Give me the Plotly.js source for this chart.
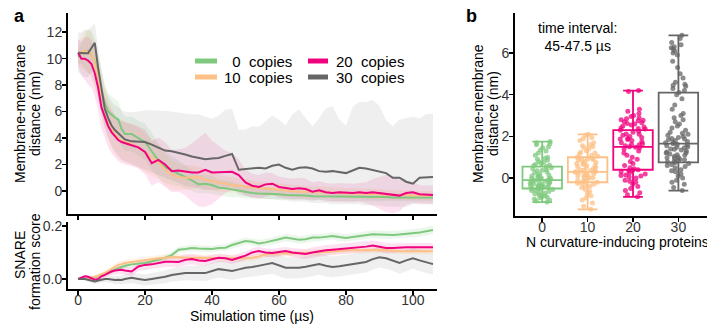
<!DOCTYPE html>
<html>
<head>
<meta charset="utf-8">
<script src="https://cdn.plot.ly/plotly-3.0.1.min.js"></script>
<style>html,body{margin:0;padding:0;background:#fff;}#chart{width:707px;height:327px;}</style>
</head>
<body>
<div id="chart"></div>
<script>
// ---------- DATA ----------
const seriesNames = ["\u00a0\u00a00\u00a0 copies", "10\u00a0 copies", "20\u00a0 copies", "30\u00a0 copies"];
const seriesColors = ["#7fc97f", "#fdc086", "#f0027f", "#666666"];
const ribbonColors = ["rgba(127,201,127,0.15)", "rgba(253,192,134,0.18)", "rgba(240,2,127,0.11)", "rgba(102,102,102,0.10)"];

const time = [0,1,2,3,4,5,6,7,8,9,10,11,12,13,14,16,18,20,22,24,26,28,30,32,34,36,38,40,42,44,46,48,50,52,54,56,58,60,62,64,66,68,70,72,74,76,78,80,82,84,86,88,90,92,94,96,98,100,102,104,106];

// membrane-membrane distance (nm), mean
const dist0 = [10.15,10.4,10.5,10.6,10.3,9.7,8.6,7.5,6.6,6.0,5.75,5.55,5.4,4.7,4.3,
  4.3,4.0,3.7,3.0,2.3,1.8,1.55,1.35,
  1.1,0.8,0.5,0.55,0.45,0.25,0.2,0.1,
  0.0,-0.05,-0.15,-0.2,-0.2,-0.25,-0.25,-0.3,-0.3,-0.35,-0.35,-0.4,-0.4,-0.4,-0.45,-0.45,-0.45,-0.45,-0.45,-0.45,-0.45,-0.45,-0.45,-0.5,-0.5,-0.5,-0.5,-0.5,-0.5,-0.5];
const dist10 = [10.4,10.5,10.6,10.5,10.4,9.6,8.6,7.2,6.2,5.4,4.8,4.25,4.0,3.8,3.7,
  3.55,3.3,2.9,2.55,2.2,1.6,1.2,1.05,
  1.0,1.05,1.05,0.85,0.75,0.6,0.5,0.45,
  0.4,0.35,0.3,0.2,0.15,0.1,0.1,0.05,0.0,-0.05,-0.05,-0.1,-0.1,-0.1,-0.15,-0.15,-0.2,-0.2,-0.2,-0.25,-0.25,-0.25,-0.3,-0.3,-0.3,-0.3,-0.35,-0.35,-0.35,-0.35];
const dist20 = [10.45,10.0,10.0,9.85,9.6,8.9,7.8,6.3,5.6,4.9,4.45,4.15,3.85,3.7,3.6,
  3.45,3.3,2.95,2.1,2.35,2.0,1.5,1.55,
  1.45,1.4,1.4,1.6,1.4,1.4,1.45,1.45,
  1.2,0.65,0.4,0.3,0.5,0.55,0.3,0.2,0.15,0.2,0.15,-0.05,0.05,-0.1,-0.15,-0.1,-0.15,-0.15,-0.1,-0.15,-0.1,-0.15,-0.2,-0.3,-0.35,-0.15,-0.1,-0.25,-0.3,-0.3];
const dist30 = [10.45,10.4,10.4,10.4,10.8,11.2,9.3,7.6,6.2,5.5,4.95,4.6,4.35,4.1,3.9,
  3.75,3.7,3.7,3.5,3.3,3.05,3.0,2.9,
  2.75,2.6,2.5,2.4,2.45,2.5,2.65,2.8,
  1.6,1.65,1.7,1.75,1.7,1.9,2.0,1.75,1.6,1.75,1.8,1.7,1.5,1.45,1.5,1.4,1.35,1.55,1.75,1.7,1.6,1.45,1.35,1.0,1.0,0.7,0.55,1.0,1.0,1.05];

// distance spread (sd) for 0/10/20 copies, explicit band for 30 copies
const distSd0 = [0.5,0.8,1.2,1.6,1.8,1.8,1.7,1.6,1.5,1.4,1.4,1.4,1.4,1.3,1.3,
  1.3,1.3,1.4,1.4,1.3,1.2,1.1,1.0,
  0.9,0.8,0.7,0.7,0.7,0.6,0.6,0.6,
  0.5,0.5,0.45,0.4,0.4,0.4,0.35,0.35,0.35,0.3,0.3,0.3,0.3,0.3,0.3,0.3,0.3,0.3,0.3,0.3,0.3,0.3,0.3,0.3,0.3,0.3,0.3,0.3,0.3,0.3];
const distSd10 = [0.8,1.2,1.5,1.6,1.6,1.6,1.6,1.5,1.5,1.5,1.5,1.5,1.5,1.5,1.5,
  1.5,1.5,1.5,1.4,1.3,1.2,1.1,1.0,
  0.9,0.9,0.8,0.8,0.7,0.7,0.6,0.6,
  0.55,0.55,0.5,0.5,0.5,0.5,0.5,0.45,0.45,0.45,0.45,0.45,0.45,0.4,0.4,0.4,0.4,0.4,0.4,0.4,0.4,0.4,0.4,0.35,0.35,0.35,0.35,0.35,0.35,0.35];
const distSd20 = [1.0,1.3,1.6,1.8,1.8,1.8,1.7,1.6,1.6,1.6,1.6,1.6,1.6,1.6,1.6,
  1.6,1.6,1.7,1.7,1.7,1.7,1.6,1.6,
  1.8,2.2,2.6,2.8,2.4,2.0,1.6,1.4,
  1.2,1.0,0.9,0.9,0.9,0.8,0.8,0.8,0.8,0.8,0.8,0.7,0.7,0.7,0.7,0.7,0.7,0.7,0.7,0.8,1.0,1.2,1.4,1.4,1.2,0.9,0.8,0.7,0.7,0.7];
const distHi30 = [11.95,12.0,12.2,12.2,12.4,12.7,10.8,9.1,7.8,7.2,6.75,6.5,6.35,6.1,6.0,
  5.95,6.0,6.1,6.1,6.1,6.05,6.0,5.9,
  5.85,5.8,5.8,5.6,5.45,5.7,6.15,6.2,
  4.6,4.65,4.9,4.85,5.3,5.7,5.4,4.95,5.8,6.15,5.5,4.9,5.5,6.25,6.4,5.4,4.95,6.35,6.75,6.7,6.9,6.45,5.35,4.9,5.4,5.5,5.6,5.5,5.8,5.85];
const distLo30 = [9.0,8.8,8.6,8.6,9.0,9.6,7.8,6.0,4.8,4.0,3.4,3.0,2.7,2.4,2.2,
  2.0,1.8,1.6,1.4,1.2,1.0,0.8,0.6,
  0.4,0.3,0.2,0.1,0.1,0.1,0.2,0.3,
  -0.3,-0.4,-0.5,-0.5,-0.6,-0.6,-0.7,-0.7,-0.8,-0.8,-0.8,-0.9,-0.9,-0.9,-1.0,-1.0,-1.0,-1.0,-1.0,-1.1,-1.1,-1.1,-1.2,-1.2,-1.2,-1.2,-1.0,-1.0,-1.0,-1.0];

// SNARE formation score, mean
const snare0 = [0,0,0,0.002,0.004,0.006,0.01,0.015,0.02,0.025,0.03,0.033,0.038,0.045,0.05,
  0.055,0.058,0.06,0.066,0.072,0.08,0.09,0.11,
  0.113,0.117,0.115,0.113,0.113,0.117,0.118,0.128,
  0.135,0.143,0.14,0.134,0.138,0.143,0.15,0.156,0.152,0.148,0.15,0.156,0.156,0.16,0.162,0.158,0.155,0.158,0.162,0.165,0.169,0.168,0.166,0.166,0.168,0.17,0.172,0.175,0.18,0.185];
const snare10 = [0,0,0,0.002,0.005,0.008,0.012,0.018,0.022,0.03,0.037,0.045,0.053,0.056,0.06,
  0.064,0.068,0.072,0.074,0.078,0.08,0.083,0.082,
  0.08,0.079,0.08,0.08,0.08,0.08,0.079,0.078,
  0.077,0.078,0.08,0.085,0.093,0.095,0.097,0.097,0.096,0.097,0.097,0.098,0.1,0.102,0.104,0.106,0.109,0.109,0.108,0.109,0.11,0.109,0.108,0.106,0.105,0.105,0.105,0.105,0.105,0.105];
const snare20 = [0,0.004,0.01,0.008,0.002,-0.003,0.0,0.01,0.015,0.022,0.028,0.032,0.034,0.035,0.032,
  0.028,0.047,0.053,0.055,0.06,0.065,0.065,0.064,
  0.072,0.075,0.07,0.068,0.074,0.08,0.078,0.072,
  0.08,0.088,0.1,0.105,0.1,0.098,0.102,0.105,0.1,0.096,0.094,0.1,0.105,0.108,0.11,0.112,0.115,0.117,0.118,0.122,0.126,0.122,0.117,0.117,0.119,0.12,0.12,0.12,0.12,0.12];
const snare30 = [0,0,0,-0.003,-0.006,-0.01,-0.006,-0.002,0,0,-0.002,-0.004,-0.003,-0.004,0.0,
  0.004,0.0,-0.004,0.0,0.004,0.008,0.015,0.018,
  0.022,0.022,0.022,0.022,0.03,0.037,0.034,0.03,
  0.036,0.042,0.045,0.049,0.055,0.06,0.05,0.042,0.042,0.042,0.046,0.05,0.056,0.05,0.045,0.048,0.052,0.056,0.06,0.064,0.075,0.082,0.078,0.07,0.06,0.07,0.078,0.07,0.062,0.056];

const snareSd0 = [0,0.002,0.003,0.004,0.005,0.006,0.007,0.008,0.009,0.01,0.01,0.01,0.01,0.01,0.01,
  0.01,0.01,0.01,0.011,0.011,0.011,0.012,0.012,
  0.012,0.012,0.012,0.012,0.012,0.012,0.013,0.013,
  0.013,0.013,0.013,0.013,0.013,0.014,0.014,0.014,0.014,0.014,0.014,0.014,0.014,0.014,0.014,0.014,0.014,0.014,0.014,0.014,0.015,0.015,0.015,0.015,0.015,0.015,0.015,0.016,0.016,0.016];
const snareSd10 = [0,0.002,0.003,0.004,0.006,0.007,0.008,0.009,0.01,0.011,0.012,0.012,0.012,0.012,0.012,
  0.012,0.012,0.012,0.012,0.012,0.012,0.012,0.012,
  0.012,0.012,0.012,0.012,0.012,0.012,0.012,0.012,
  0.012,0.012,0.012,0.012,0.012,0.012,0.012,0.012,0.012,0.012,0.012,0.012,0.012,0.012,0.012,0.012,0.012,0.012,0.012,0.012,0.012,0.012,0.012,0.012,0.012,0.012,0.012,0.012,0.012,0.012];
const snareSd20 = [0,0.003,0.005,0.006,0.007,0.008,0.009,0.01,0.011,0.012,0.013,0.014,0.015,0.015,0.015,
  0.016,0.017,0.018,0.018,0.019,0.02,0.02,0.02,
  0.02,0.02,0.019,0.018,0.017,0.016,0.016,0.016,
  0.016,0.016,0.016,0.016,0.016,0.016,0.016,0.016,0.017,0.018,0.019,0.02,0.02,0.02,0.02,0.02,0.02,0.02,0.02,0.02,0.02,0.02,0.019,0.018,0.017,0.016,0.016,0.016,0.016,0.016];
const snareSd30 = [0,0.003,0.005,0.007,0.008,0.009,0.01,0.011,0.012,0.013,0.014,0.015,0.016,0.017,0.018,
  0.019,0.02,0.021,0.022,0.023,0.024,0.025,0.026,
  0.027,0.028,0.029,0.03,0.031,0.032,0.033,0.034,
  0.035,0.036,0.037,0.038,0.039,0.04,0.04,0.04,0.04,0.04,0.04,0.04,0.04,0.04,0.04,0.04,0.04,0.04,0.04,0.04,0.04,0.04,0.04,0.04,0.04,0.04,0.04,0.04,0.04,0.04];

// Panel b: distance at 45-47.5 us per N curvature-inducing proteins
const boxLabels = ["0", "10", "20", "30"];
const boxQ1 = [-0.5, -0.2, 0.4, 0.75];
const boxMedian = [-0.1, 0.3, 1.5, 1.65];
const boxQ3 = [0.55, 1.0, 2.3, 4.1];
const boxLow = [-1.15, -1.5, -0.9, -0.6];
const boxHigh = [1.75, 2.1, 4.2, 6.85];
const pts0 = [1.75,1.7,1.65,1.6,1.5,1.45,1.3,1.2,1.1,1.0,0.95,0.9,0.8,0.75,0.7,0.65,0.6,0.55,0.5,0.45,0.4,0.35,0.3,0.25,0.2,0.15,0.1,0.05,0.0,-0.02,-0.05,-0.08,-0.1,-0.12,-0.15,-0.18,-0.2,-0.25,-0.28,-0.3,-0.33,-0.35,-0.38,-0.4,-0.42,-0.45,-0.48,-0.5,-0.52,-0.55,-0.6,-0.65,-0.7,-0.75,-0.8,-0.85,-0.9,-0.95,-1.0,-1.05,-1.1,-1.15,0.85,0.62,0.38,0.12,-0.06,-0.22,-0.46,-0.58,-0.72,-0.92,1.35,0.02,-0.32];
const pts10 = [2.1,2.05,1.95,1.9,1.8,1.7,1.6,1.55,1.5,1.4,1.3,1.25,1.2,1.1,1.05,1.0,0.95,0.9,0.85,0.8,0.75,0.7,0.65,0.6,0.55,0.5,0.45,0.4,0.35,0.32,0.3,0.28,0.25,0.2,0.15,0.1,0.05,0.0,-0.05,-0.1,-0.15,-0.2,-0.25,-0.3,-0.35,-0.45,-0.55,-0.65,-0.75,-0.85,-0.95,-1.05,-1.2,-1.35,-1.5,0.62,0.48,0.33,0.18,0.02,-0.12,0.88,1.15,-0.4,0.72,0.38,0.12,-0.22,1.45,0.9];
const pts20 = [4.2,4.15,3.3,3.2,3.1,3.0,2.95,2.9,2.85,2.8,2.75,2.7,2.65,2.6,2.55,2.5,2.45,2.4,2.35,2.3,2.25,2.2,2.1,2.05,2.0,1.95,1.9,1.85,1.8,1.75,1.7,1.65,1.6,1.55,1.5,1.45,1.4,1.3,1.2,1.1,1.0,0.9,0.8,0.7,0.6,0.5,0.45,0.4,0.35,0.3,0.25,0.2,0.15,0.1,0.05,0.0,-0.1,-0.2,-0.3,-0.4,-0.5,-0.6,-0.7,-0.8,-0.9,2.62,2.38,2.12,1.88,1.62,0.38,0.12,-0.15,2.78,1.48];
const pts30 = [6.85,6.7,6.5,6.4,6.3,6.2,6.1,6.0,5.9,5.6,5.3,5.0,4.8,4.6,4.5,4.4,4.3,4.2,4.1,4.0,3.8,3.5,3.3,3.1,3.0,2.9,2.8,2.7,2.6,2.5,2.4,2.3,2.2,2.1,2.05,2.0,1.95,1.9,1.85,1.8,1.75,1.7,1.65,1.6,1.55,1.5,1.45,1.4,1.35,1.3,1.25,1.2,1.15,1.1,1.05,1.0,0.95,0.9,0.85,0.8,0.75,0.7,0.65,0.6,0.5,0.4,0.3,0.2,0.1,0.0,-0.1,-0.2,-0.3,-0.45,-0.6,1.72,1.48,1.22,0.98,0.78,1.62,1.38,2.15,0.55,0.88,6.25,4.45,1.12,1.88,0.35];

const xTicks = [0, 20, 40, 60, 80, 100];
const yTicksDist = [0, 2, 4, 6, 8, 10, 12];
const yTicksSnare = [0, 0.2];
const yTickTextSnare = ["0.0", "0.2"];
const yTicksBox = [0, 2, 4, 6];

// ---------- BUILD ----------
const W = 707, H = 327;
const fx = p => p / W;
const fy = p => 1 - p / H;
const FONT = "Liberation Sans, Arial, Helvetica, sans-serif";

const distMeans = [dist0, dist10, dist20, dist30];
const distSds = [distSd0, distSd10, distSd20, null];
const snareMeans = [snare0, snare10, snare20, snare30];
const snareSds = [snareSd0, snareSd10, snareSd20, snareSd30];
const boxPts = [pts0, pts10, pts20, pts30];

const revT = time.slice().reverse();
function band(hi, lo, color, xa, ya) {
  return {type: 'scatter', mode: 'lines', x: time.concat(revT), y: hi.concat(lo.slice().reverse()),
    fill: 'toself', fillcolor: color, line: {width: 0, color: 'rgba(0,0,0,0)'},
    hoverinfo: 'skip', showlegend: false, xaxis: xa, yaxis: ya};
}

const traces = [];
for (let i = 0; i < 4; i++) {
  let hi, lo;
  if (i === 3) { hi = distHi30; lo = distLo30; }
  else { hi = distMeans[i].map((v, k) => v + distSds[i][k]); lo = distMeans[i].map((v, k) => v - distSds[i][k]); }
  traces.push(band(hi, lo, ribbonColors[i], 'x', 'y'));
}
for (let i = 0; i < 4; i++) {
  const hi = snareMeans[i].map((v, k) => v + snareSds[i][k]);
  const lo = snareMeans[i].map((v, k) => v - snareSds[i][k]);
  traces.push(band(hi, lo, ribbonColors[i], 'x2', 'y2'));
}
for (let i = 0; i < 4; i++) {
  traces.push({type: 'scatter', mode: 'lines', x: time, y: distMeans[i], line: {color: seriesColors[i], width: 2},
    showlegend: false, xaxis: 'x', yaxis: 'y'});
}
for (let i = 0; i < 4; i++) {
  traces.push({type: 'scatter', mode: 'lines', x: time, y: snareMeans[i], line: {color: seriesColors[i], width: 2},
    showlegend: false, xaxis: 'x2', yaxis: 'y2'});
}
// panel b boxes
for (let i = 0; i < 4; i++) {
  traces.push({type: 'box', x: [boxLabels[i]], q1: [boxQ1[i]], median: [boxMedian[i]], q3: [boxQ3[i]],
    lowerfence: [boxLow[i]], upperfence: [boxHigh[i]], boxpoints: false,
    line: {color: seriesColors[i], width: 1.8}, fillcolor: 'rgba(255,255,255,0)',
    whiskerwidth: 0.5, width: 0.87, showlegend: false, xaxis: 'x3', yaxis: 'y3'});
}
for (let i = 0; i < 4; i++) {
  traces.push({type: 'box', x: boxPts[i].map(() => boxLabels[i]), y: boxPts[i], boxpoints: 'all',
    jitter: 0.7, pointpos: 0, width: 0.87, whiskerwidth: 0,
    marker: {color: seriesColors[i], size: 5, opacity: 0.75, line: {width: 0}},
    line: {width: 0, color: 'rgba(0,0,0,0)'}, fillcolor: 'rgba(0,0,0,0)',
    showlegend: false, xaxis: 'x3', yaxis: 'y3'});
}

const axisCommon = {showline: true, linecolor: '#000', linewidth: 2, ticks: 'outside', ticklen: 4,
  tickwidth: 1.5, tickcolor: '#000', showgrid: false, zeroline: false,
  tickfont: {family: FONT, size: 14, color: '#333'}, fixedrange: true};

// legend drawn as swatch shapes + text annotations (2 columns, column-major)
const legendSwatchX = [[195, 217], [195, 217], [308, 328], [308, 328]];
const legendTextX = [222, 222, 334, 334];
const legendRowY = [61, 77, 61, 77];
const shapes = [];
const annotations = [];
for (let i = 0; i < 4; i++) {
  shapes.push({type: 'line', xref: 'paper', yref: 'paper', x0: fx(legendSwatchX[i][0]), x1: fx(legendSwatchX[i][1]),
    y0: fy(legendRowY[i]), y1: fy(legendRowY[i]), line: {color: seriesColors[i], width: 5}});
  annotations.push({text: seriesNames[i], x: fx(legendTextX[i]), y: fy(legendRowY[i]), xref: 'paper', yref: 'paper',
    showarrow: false, xanchor: 'left', yanchor: 'middle', font: {size: 15, color: '#000'}});
}

const xDom = [fx(68), fx(437)];
const layout = {
  width: W, height: H,
  margin: {l: 0, r: 0, t: 0, b: 0},
  paper_bgcolor: '#fff', plot_bgcolor: 'rgba(0,0,0,0)',
  font: {family: FONT, size: 14, color: '#000'},
  boxmode: 'overlay', showlegend: false,
  xaxis: Object.assign({}, axisCommon, {domain: xDom, range: [-3, 107.2], anchor: 'y', tickvals: xTicks, showticklabels: false}),
  yaxis: Object.assign({}, axisCommon, {domain: [fy(214), fy(13)], range: [-1.74, 13.45], anchor: 'x', tickvals: yTicksDist, ticklabelstandoff: -3}),
  xaxis2: Object.assign({}, axisCommon, {domain: xDom, range: [-3, 107.2], anchor: 'y2', tickvals: xTicks, ticklabelstandoff: -7}),
  yaxis2: Object.assign({}, axisCommon, {domain: [fy(289), fy(222)], range: [-0.038, 0.215], anchor: 'x2', tickvals: yTicksSnare, ticktext: yTickTextSnare, ticklabelstandoff: -3}),
  xaxis3: Object.assign({}, axisCommon, {domain: [fx(515), 1], type: 'category', categoryorder: 'array', categoryarray: boxLabels, range: [-0.6, 3.63], anchor: 'y3', ticklabelstandoff: -7}),
  yaxis3: Object.assign({}, axisCommon, {domain: [fy(216), fy(13)], range: [-1.82, 7.92], anchor: 'x3', tickvals: yTicksBox, ticklabelstandoff: -3}),
  shapes: shapes,
  annotations: annotations.concat([
    {text: '<b>a</b>', x: fx(19), y: fy(16), xref: 'paper', yref: 'paper', showarrow: false, font: {size: 18, color: '#000'}, xanchor: 'center', yanchor: 'middle'},
    {text: '<b>b</b>', x: fx(472), y: fy(16), xref: 'paper', yref: 'paper', showarrow: false, font: {size: 18, color: '#000'}, xanchor: 'center', yanchor: 'middle'},
    {text: 'Membrane-membrane', x: fx(20), y: fy(114), xref: 'paper', yref: 'paper', showarrow: false, textangle: -90, xanchor: 'center', yanchor: 'middle', font: {size: 14}},
    {text: 'distance (nm)', x: fx(35), y: fy(114), xref: 'paper', yref: 'paper', showarrow: false, textangle: -90, xanchor: 'center', yanchor: 'middle', font: {size: 14}},
    {text: 'SNARE', x: fx(20), y: fy(255), xref: 'paper', yref: 'paper', showarrow: false, textangle: -90, xanchor: 'center', yanchor: 'middle', font: {size: 14}},
    {text: 'formation score', x: fx(35), y: fy(262), xref: 'paper', yref: 'paper', showarrow: false, textangle: -90, xanchor: 'center', yanchor: 'middle', font: {size: 14}},
    {text: 'Simulation time (\u00b5s)', x: fx(252), y: fy(316), xref: 'paper', yref: 'paper', showarrow: false, xanchor: 'center', yanchor: 'middle', font: {size: 14}},
    {text: 'Membrane-membrane', x: fx(478), y: fy(114), xref: 'paper', yref: 'paper', showarrow: false, textangle: -90, xanchor: 'center', yanchor: 'middle', font: {size: 14}},
    {text: 'distance (nm)', x: fx(493), y: fy(114), xref: 'paper', yref: 'paper', showarrow: false, textangle: -90, xanchor: 'center', yanchor: 'middle', font: {size: 14}},
    {text: 'N curvature-inducing proteins', x: fx(524), y: fy(242), xref: 'paper', yref: 'paper', showarrow: false, xanchor: 'left', yanchor: 'middle', font: {size: 14}},
    {text: 'time interval:<br>45-47.5 \u00b5s', x: fx(577), y: fy(37), xref: 'paper', yref: 'paper', showarrow: false, xanchor: 'center', yanchor: 'middle', align: 'center', font: {size: 14}}
  ])
};

Plotly.newPlot('chart', traces, layout, {displayModeBar: false, staticPlot: true});
</script>
</body>
</html>
